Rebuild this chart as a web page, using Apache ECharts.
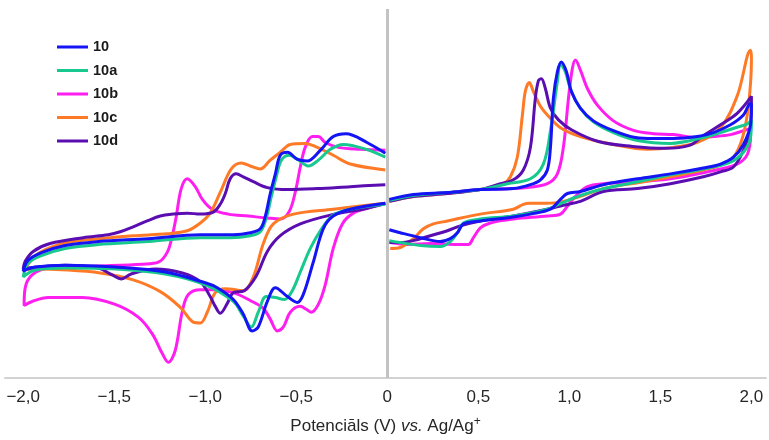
<!DOCTYPE html>
<html>
<head>
<meta charset="utf-8">
<script src="https://cdn.jsdelivr.net/npm/echarts@6/dist/echarts.min.js"></script>
<style>
html,body{margin:0;padding:0;background:#fff;overflow:hidden;}
#chart{width:100vw;height:100vh;}
</style>
</head>
<body>
<div id="chart"></div>
<script>
// Tick labels of the potential axis (V)
const tickValues = [-2, -1.5, -1, -0.5, 0, 0.5, 1, 1.5, 2];
const seriesNames = ['10', '10a', '10b', '10c', '10d'];

// Reduction half (0 → −2 V → 0), [potential V, current a.u.]
const left10 = [[-0.011,229],[-0.112,240],[-0.227,249],[-0.297,246],[-0.368,232],[-0.441,221],[-0.496,223],[-0.548,230],[-0.588,227],[-0.615,208],[-0.643,188],[-0.670,165],[-0.698,152],[-0.753,148],[-0.846,146],[-1.027,146],[-1.313,142],[-1.588,139],[-1.769,135],[-1.896,128],[-1.973,120],[-2.0,109],[-1.934,113],[-1.769,115],[-1.495,113],[-1.220,108],[-1.0,97],[-0.934,92],[-0.846,80],[-0.791,65],[-0.742,48],[-0.709,52],[-0.659,78],[-0.615,92],[-0.549,83],[-0.495,77],[-0.462,85],[-0.407,118],[-0.352,152],[-0.297,165],[-0.203,172],[-0.011,178]];
const left10a = [[-0.011,225],[-0.115,233],[-0.242,238],[-0.313,233],[-0.379,222],[-0.434,216],[-0.495,223],[-0.538,227],[-0.582,222],[-0.610,205],[-0.637,185],[-0.665,163],[-0.698,149],[-0.753,145],[-0.863,143],[-1.027,143],[-1.313,139],[-1.588,136],[-1.769,132],[-1.896,125],[-1.973,117],[-2.0,103],[-1.934,110],[-1.769,112],[-1.495,111],[-1.220,106],[-1.0,95],[-0.846,78],[-0.791,63],[-0.747,52],[-0.709,67],[-0.665,83],[-0.615,82],[-0.566,80],[-0.522,89],[-0.478,108],[-0.423,132],[-0.368,150],[-0.297,166],[-0.203,172],[-0.011,177]];
const left10b = [[-0.011,232],[-0.148,233],[-0.269,235],[-0.341,240],[-0.379,246],[-0.412,246],[-0.451,235],[-0.478,215],[-0.505,190],[-0.538,170],[-0.588,162],[-0.659,163],[-0.764,165],[-0.874,167],[-0.962,172],[-1.016,182],[-1.055,195],[-1.099,203],[-1.132,193],[-1.159,165],[-1.181,145],[-1.209,128],[-1.258,118],[-1.346,116],[-1.588,114],[-1.863,112],[-1.951,105],[-1.989,92],[-1.995,74],[-1.951,78],[-1.863,82],[-1.676,82],[-1.495,75],[-1.368,62],[-1.291,45],[-1.236,25],[-1.203,16],[-1.165,28],[-1.126,68],[-1.093,85],[-1.027,90],[-0.945,90],[-0.846,87],[-0.753,79],[-0.681,71],[-0.643,60],[-0.604,48],[-0.571,52],[-0.533,67],[-0.478,73],[-0.445,70],[-0.418,67],[-0.379,75],[-0.341,95],[-0.297,132],[-0.247,157],[-0.187,168],[-0.110,173],[-0.011,178]];
const left10c = [[-0.011,212],[-0.203,218],[-0.297,227],[-0.385,235],[-0.451,239],[-0.533,238],[-0.588,230],[-0.643,222],[-0.698,213],[-0.753,216],[-0.802,219],[-0.857,213],[-0.918,189],[-0.973,168],[-1.027,158],[-1.099,150],[-1.209,147],[-1.396,145],[-1.577,142],[-1.758,138],[-1.907,128],[-1.978,115],[-1.995,110],[-1.945,111],[-1.758,110],[-1.577,107],[-1.396,100],[-1.247,88],[-1.137,72],[-1.066,57],[-1.027,56],[-0.989,67],[-0.945,87],[-0.890,91],[-0.791,89],[-0.736,103],[-0.681,137],[-0.626,157],[-0.516,167],[-0.297,172],[-0.011,178]];
const left10d = [[-0.011,197],[-0.203,195],[-0.385,193],[-0.549,192],[-0.659,194],[-0.736,200],[-0.791,205],[-0.830,208],[-0.863,203],[-0.890,188],[-0.918,177],[-0.956,169],[-1.027,167],[-1.099,168],[-1.176,167],[-1.247,165],[-1.319,160],[-1.396,154],[-1.467,149],[-1.533,146],[-1.670,143],[-1.852,137],[-1.945,129],[-1.989,119],[-2.0,111],[-1.973,112],[-1.769,115],[-1.588,112],[-1.511,105],[-1.462,101],[-1.407,106],[-1.275,111],[-1.126,107],[-1.027,98],[-0.973,83],[-0.945,73],[-0.918,66],[-0.879,76],[-0.846,87],[-0.786,89],[-0.720,104],[-0.659,129],[-0.588,145],[-0.478,157],[-0.313,166],[-0.110,173],[-0.011,178]];

// Oxidation half (0 → +2 V → 0), [potential V, current a.u.]
const right10 = [[0.011,182],[0.143,187],[0.330,189],[0.511,192],[0.692,193],[0.786,197],[0.841,202],[0.879,212],[0.896,235],[0.912,285],[0.934,312],[0.956,322],[0.984,312],[1.011,292],[1.060,275],[1.132,262],[1.242,252],[1.363,245],[1.462,244],[1.571,244],[1.703,246],[1.791,250],[1.885,258],[1.956,268],[1.995,280],[2.0,278],[1.995,258],[1.956,238],[1.901,225],[1.830,218],[1.736,214],[1.555,208],[1.374,203],[1.187,197],[1.060,190],[0.989,188],[0.951,182],[0.896,172],[0.786,167],[0.692,164],[0.511,160],[0.418,157],[0.385,148],[0.346,142],[0.291,139],[0.181,143],[0.071,148],[0.011,151]];
const right10a = [[0.011,181],[0.143,186],[0.330,189],[0.511,192],[0.659,198],[0.786,203],[0.857,218],[0.896,252],[0.934,302],[0.951,320],[0.978,312],[1.005,295],[1.060,275],[1.132,261],[1.242,250],[1.374,242],[1.555,239],[1.736,245],[1.830,250],[1.912,255],[1.978,259],[2.0,263],[1.995,245],[1.956,230],[1.885,220],[1.736,213],[1.555,207],[1.374,200],[1.187,193],[1.060,186],[0.967,179],[0.879,172],[0.692,165],[0.511,162],[0.418,158],[0.385,148],[0.346,139],[0.291,134],[0.181,135],[0.071,138],[0.011,140]];
const right10b = [[0.011,181],[0.143,186],[0.330,189],[0.511,192],[0.692,193],[0.769,194],[0.879,198],[0.934,208],[0.967,235],[0.995,285],[1.016,315],[1.033,324],[1.060,314],[1.099,295],[1.154,278],[1.242,262],[1.357,252],[1.462,249],[1.571,248],[1.703,245],[1.791,246],[1.885,248],[1.956,252],[1.995,254],[1.995,248],[1.978,228],[1.923,218],[1.830,213],[1.555,203],[1.374,200],[1.187,198],[1.099,195],[1.033,185],[0.989,175],[0.951,167],[0.879,165],[0.692,162],[0.566,158],[0.511,153],[0.473,143],[0.445,136],[0.385,136],[0.236,137],[0.110,136],[0.016,138]];
const right10c = [[0.011,180],[0.143,185],[0.330,188],[0.511,192],[0.637,198],[0.676,205],[0.714,225],[0.742,268],[0.758,292],[0.780,301],[0.802,292],[0.841,277],[0.879,268],[0.951,255],[1.060,246],[1.242,238],[1.429,233],[1.571,235],[1.703,240],[1.830,255],[1.923,288],[1.995,334],[2.0,325],[1.984,278],[1.951,245],[1.901,225],[1.830,217],[1.736,212],[1.555,205],[1.374,199],[1.187,193],[1.060,185],[0.967,180],[0.879,178],[0.786,178],[0.747,177],[0.692,172],[0.511,167],[0.330,160],[0.253,157],[0.198,152],[0.143,142],[0.071,133],[0.016,132]];
const right10d = [[0.011,180],[0.143,185],[0.330,188],[0.511,192],[0.604,197],[0.692,202],[0.747,212],[0.786,235],[0.813,285],[0.830,303],[0.846,305],[0.868,295],[0.896,275],[0.940,263],[1.011,253],[1.159,241],[1.346,236],[1.527,234],[1.659,237],[1.736,247],[1.830,258],[1.923,270],[2.0,287],[1.995,255],[1.956,232],[1.901,215],[1.830,210],[1.736,205],[1.555,198],[1.374,193],[1.187,190],[1.060,180],[0.967,176],[0.879,172],[0.692,165],[0.511,160],[0.401,155],[0.330,150],[0.236,145],[0.143,140],[0.071,138],[0.011,138]];

const colors = ['#1414f5', '#17c98f', '#ff1ef0', '#ff7a26', '#5a0db0'];
const halves = [
  [left10, right10], [left10a, right10a], [left10b, right10b], [left10c, right10c], [left10d, right10d]
];
const zOrder = [10, 9, 6, 7, 8];

const series = [];
halves.forEach((pair, i) => {
  pair.forEach((data) => {
    series.push({
      name: seriesNames[i],
      type: 'line',
      data: data,
      smooth: 0.35,
      showSymbol: false,
      symbol: 'none',
      z: zOrder[i],
      lineStyle: { color: colors[i], width: 3 },
      itemStyle: { color: colors[i] },
      emphasis: { disabled: true },
      animation: false
    });
  });
});
// grey separator at 0 V
series.push({
  type: 'line', data: [], z: 1, silent: true,
  markLine: {
    symbol: 'none', silent: true, animation: false,
    label: { show: false },
    lineStyle: { color: '#c3c3c3', width: 3, type: 'solid' },
    data: [{ xAxis: 0 }]
  }
});

const fmt = v => {
  if (Math.abs(v) < 1e-9) return '0';
  return (v < 0 ? '\u2212' : '') + Math.abs(v).toFixed(1).replace('.', ',');
};

const chart = echarts.init(document.getElementById('chart'), null, { renderer: 'canvas' });
chart.setOption({
  backgroundColor: '#ffffff',
  animation: false,
  grid: { left: 5, right: 3, top: 9, bottom: 55, containLabel: false },
  legend: {
    orient: 'vertical', left: 52, top: 34,
    data: seriesNames,
    icon: 'rect', itemWidth: 31, itemHeight: 3, itemGap: 7.5,
    textStyle: { fontFamily: 'Liberation Sans, Arial, sans-serif', fontWeight: 'bold', fontSize: 14.5, color: '#1a1a1a', lineHeight: 16 },
    selectedMode: false
  },
  xAxis: {
    type: 'value', min: -2.1, max: 2.08,
    axisLine: { show: true, onZero: false, lineStyle: { color: '#d2d2d2', width: 2 } },
    axisTick: { show: false },
    splitLine: { show: false },
    axisLabel: {
      customValues: tickValues,
      formatter: fmt, margin: 11,
      fontFamily: 'Liberation Sans, Arial, sans-serif', fontSize: 17, color: '#262626'
    },
    name: '{n|Potenciāls (V) }{i|vs.}{n| Ag/Ag}{s|+}',
    nameLocation: 'middle', nameGap: 38,
    nameTextStyle: {
      rich: {
        n: { fontFamily: 'Liberation Sans, Arial, sans-serif', fontSize: 17, color: '#262626', lineHeight: 20 },
        i: { fontFamily: 'Liberation Sans, Arial, sans-serif', fontSize: 17, fontStyle: 'italic', color: '#262626', lineHeight: 20 },
        s: { fontFamily: 'Liberation Sans, Arial, sans-serif', fontSize: 12, color: '#262626', padding: [0, 0, 9, 0] }
      }
    }
  },
  yAxis: { type: 'value', min: 0, max: 376, show: false, splitLine: { show: false } },
  series: series
});
window.addEventListener('resize', () => chart.resize());
</script>
</body>
</html>
